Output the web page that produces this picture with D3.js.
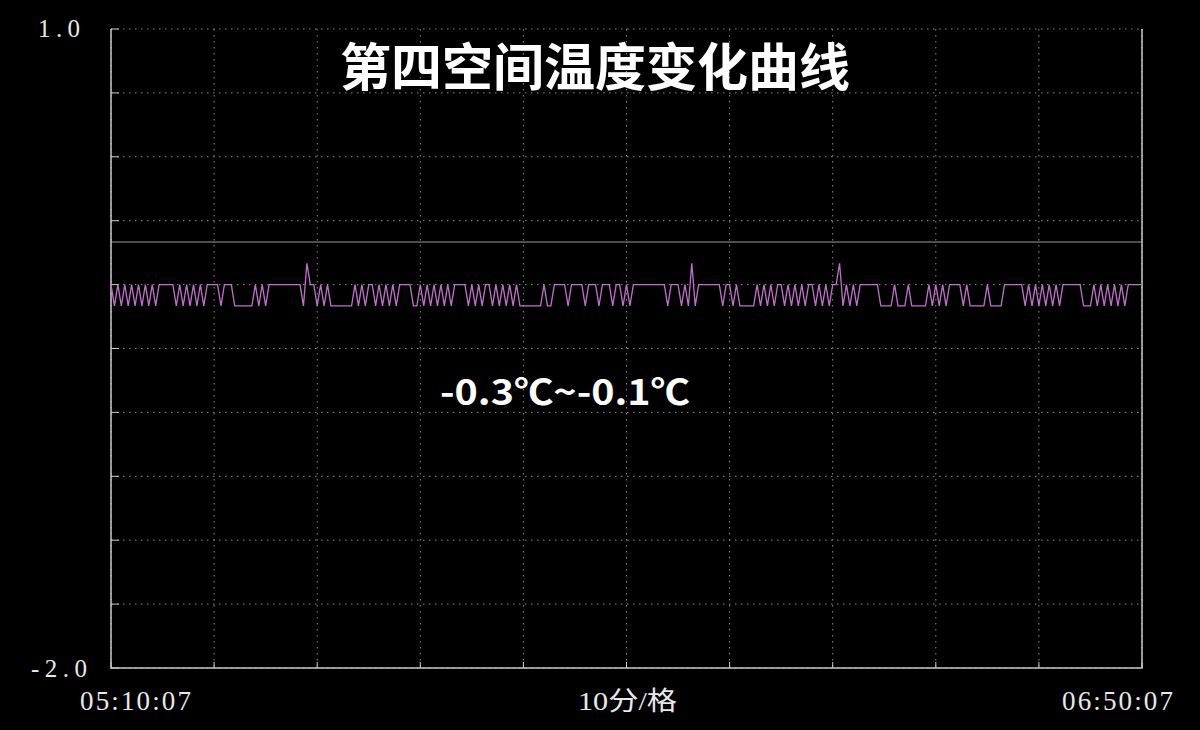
<!DOCTYPE html>
<html>
<head>
<meta charset="utf-8">
<script src="https://cdn.jsdelivr.net/npm/d3@7/dist/d3.min.js"></script>
<style>
  html, body { margin: 0; padding: 0; background: #000; }
  svg { display: block; }
</style>
</head>
<body>
<svg id="chart" width="1200" height="730"></svg>
<script>
// ---------- data ----------
const title = "第四空间温度变化曲线";
const rangeNote = "-0.3℃~-0.1℃";
const startTime = "05:10:07";
const endTime = "06:50:07";
const xCenterLabel = "10分/格";
const yMaxLabel = "1.0";
const yMinLabel = "-2.0";
const yDomain = [-2.0, 1.0];
const yGridValues = [1.0, 0.7, 0.4, 0.1, -0.2, -0.5, -0.8, -1.1, -1.4, -1.7, -2.0];
const xGridMinutes = [0, 10, 20, 30, 40, 50, 60, 70, 80, 90, 100];
const referenceValue = 0.0;
const sampleSeconds = 20;
// temperature samples (℃), one every 20 s from 05:10:07 to 06:50:07
const temps = [
  -0.2,-0.3,-0.2,-0.3,-0.2,-0.3,-0.2,-0.3,-0.2,-0.3,
  -0.2,-0.3,-0.2,-0.3,-0.2,-0.2,-0.2,-0.2,-0.2,-0.3,
  -0.2,-0.3,-0.2,-0.3,-0.2,-0.3,-0.2,-0.3,-0.2,-0.2,
  -0.2,-0.2,-0.3,-0.2,-0.2,-0.2,-0.3,-0.3,-0.3,-0.3,
  -0.3,-0.3,-0.2,-0.3,-0.2,-0.3,-0.2,-0.2,-0.2,-0.2,
  -0.2,-0.2,-0.2,-0.2,-0.2,-0.2,-0.3,-0.1,-0.2,-0.2,
  -0.3,-0.2,-0.3,-0.2,-0.3,-0.3,-0.3,-0.3,-0.3,-0.3,
  -0.3,-0.2,-0.3,-0.2,-0.3,-0.2,-0.2,-0.3,-0.2,-0.3,
  -0.2,-0.3,-0.2,-0.3,-0.2,-0.2,-0.2,-0.2,-0.3,-0.3,
  -0.2,-0.3,-0.2,-0.3,-0.2,-0.3,-0.2,-0.3,-0.2,-0.3,
  -0.2,-0.2,-0.2,-0.2,-0.3,-0.2,-0.3,-0.2,-0.3,-0.2,
  -0.2,-0.3,-0.2,-0.3,-0.2,-0.3,-0.2,-0.3,-0.2,-0.3,
  -0.3,-0.3,-0.3,-0.3,-0.3,-0.3,-0.2,-0.3,-0.3,-0.2,
  -0.2,-0.2,-0.2,-0.3,-0.2,-0.2,-0.2,-0.2,-0.3,-0.2,
  -0.2,-0.2,-0.3,-0.2,-0.2,-0.2,-0.3,-0.2,-0.2,-0.3,
  -0.2,-0.3,-0.2,-0.2,-0.2,-0.2,-0.2,-0.2,-0.2,-0.2,
  -0.2,-0.2,-0.3,-0.2,-0.2,-0.2,-0.3,-0.2,-0.3,-0.1,
  -0.3,-0.2,-0.2,-0.2,-0.2,-0.2,-0.2,-0.2,-0.3,-0.2,
  -0.2,-0.3,-0.2,-0.3,-0.3,-0.3,-0.3,-0.3,-0.2,-0.3,
  -0.2,-0.3,-0.2,-0.3,-0.2,-0.2,-0.3,-0.2,-0.3,-0.2,
  -0.3,-0.2,-0.3,-0.2,-0.2,-0.3,-0.2,-0.3,-0.2,-0.3,
  -0.2,-0.2,-0.1,-0.3,-0.2,-0.3,-0.2,-0.3,-0.2,-0.2,
  -0.2,-0.2,-0.2,-0.2,-0.3,-0.3,-0.3,-0.3,-0.2,-0.3,
  -0.3,-0.3,-0.2,-0.3,-0.3,-0.3,-0.3,-0.3,-0.2,-0.3,
  -0.2,-0.3,-0.2,-0.3,-0.2,-0.2,-0.2,-0.2,-0.3,-0.2,
  -0.3,-0.3,-0.3,-0.3,-0.3,-0.2,-0.3,-0.3,-0.3,-0.3,
  -0.2,-0.2,-0.2,-0.2,-0.2,-0.2,-0.3,-0.2,-0.3,-0.2,
  -0.3,-0.2,-0.3,-0.2,-0.3,-0.2,-0.3,-0.2,-0.2,-0.2,
  -0.2,-0.2,-0.2,-0.3,-0.3,-0.3,-0.2,-0.3,-0.2,-0.3,
  -0.2,-0.3,-0.2,-0.3,-0.2,-0.3,-0.2,-0.2,-0.2,-0.2,
  -0.2
];

// ---------- layout ----------
(function draw() {
const svg = d3.select("#chart");
const pL = 111, pR = 1142, pT = 29, pB = 668;

const parse = d3.timeParse("%H:%M:%S");
const t0 = parse(startTime), t1 = parse(endTime);

const x = d3.scaleTime().domain([t0, t1]).range([pL, pR]);
const y = d3.scaleLinear().domain(yDomain).range([pB, pT]);

const pts = temps.map((v, i) => ({ t: new Date(+t0 + i * sampleSeconds * 1000), v }));

svg.append("rect").attr("width", 1200).attr("height", 730).attr("fill", "#000");

// grid
const grid = svg.append("g");
grid.append("g").selectAll("line").data(yGridValues).join("line")
  .attr("x1", pL).attr("x2", pR)
  .attr("y1", d => y(d)).attr("y2", d => y(d))
  .attr("stroke", "#8a8a8a").attr("stroke-width", 1)
  .attr("stroke-dasharray", "1.5,4.5");
grid.append("g").selectAll("line").data(xGridMinutes).join("line")
  .attr("x1", d => x(d3.timeMinute.offset(t0, d))).attr("x2", d => x(d3.timeMinute.offset(t0, d)))
  .attr("y1", pT).attr("y2", pB)
  .attr("stroke", "#8a8a8a").attr("stroke-width", 1)
  .attr("stroke-dasharray", "1.5,4.5");

// left ticks (short solid)
svg.append("g").selectAll("line").data(yGridValues).join("line")
  .attr("x1", pL).attr("x2", pL + 8)
  .attr("y1", d => y(d)).attr("y2", d => y(d))
  .attr("stroke", "#c8c8c8").attr("stroke-width", 1);
// bottom ticks
svg.append("g").selectAll("line").data(xGridMinutes).join("line")
  .attr("x1", d => x(d3.timeMinute.offset(t0, d))).attr("x2", d => x(d3.timeMinute.offset(t0, d)))
  .attr("y1", pB).attr("y2", pB - 6)
  .attr("stroke", "#c8c8c8").attr("stroke-width", 1);

// zero reference line
svg.append("line")
  .attr("x1", pL).attr("x2", pR)
  .attr("y1", y(referenceValue)).attr("y2", y(referenceValue))
  .attr("stroke", "#9a9a9a").attr("stroke-width", 1);

// axes frame: left, bottom, right
svg.append("path")
  .attr("d", `M${pL},${pT}V${pB}H${pR}V${pT}`)
  .attr("fill", "none").attr("stroke", "#c8c8c8").attr("stroke-width", 1.5);

// series
const line = d3.line().x(d => x(d.t)).y(d => y(d.v));
svg.append("path").datum(pts)
  .attr("d", line)
  .attr("fill", "none")
  .attr("stroke", "#c070cc")
  .attr("stroke-width", 1.3)
  .attr("stroke-linejoin", "miter");

// axis labels
const axisFont = "'Liberation Serif', 'Noto Sans CJK SC', serif";
svg.append("text").text(yMaxLabel)
  .attr("x", 80).attr("y", 37).attr("text-anchor", "end")
  .attr("font-family", axisFont).attr("font-size", 25).attr("fill", "#e8e8e8")
  .attr("textLength", 42).attr("lengthAdjust", "spacing");
svg.append("text").text(yMinLabel)
  .attr("x", 87).attr("y", 677).attr("text-anchor", "end")
  .attr("font-family", axisFont).attr("font-size", 25).attr("fill", "#e8e8e8")
  .attr("textLength", 56).attr("lengthAdjust", "spacing");

svg.append("text").text(startTime)
  .attr("x", 80).attr("y", 710)
  .attr("font-family", axisFont).attr("font-size", 27).attr("fill", "#e8e8e8")
  .attr("textLength", 111).attr("lengthAdjust", "spacing");
svg.append("text").text(endTime)
  .attr("x", 1062).attr("y", 710)
  .attr("font-family", axisFont).attr("font-size", 27).attr("fill", "#e8e8e8")
  .attr("textLength", 111).attr("lengthAdjust", "spacing");
svg.append("text").text(xCenterLabel)
  .attr("x", 578).attr("y", 710)
  .attr("font-family", axisFont).attr("font-size", 26).attr("fill", "#e8e8e8")
  .attr("textLength", 99).attr("lengthAdjust", "spacingAndGlyphs");

// title
svg.append("text").text(title)
  .attr("x", 595).attr("y", 86).attr("text-anchor", "middle")
  .attr("font-family", "'Noto Sans CJK SC', sans-serif").attr("font-weight", 700)
  .attr("font-size", 51).attr("fill", "#ffffff");

// range annotation
svg.append("text").text(rangeNote)
  .attr("x", 440).attr("y", 405)
  .attr("font-family", "'Noto Sans CJK SC', sans-serif").attr("font-weight", 700)
  .attr("font-size", 35).attr("fill", "#ffffff")
  .attr("textLength", 250).attr("lengthAdjust", "spacingAndGlyphs");
})();
</script>
</body>
</html>
